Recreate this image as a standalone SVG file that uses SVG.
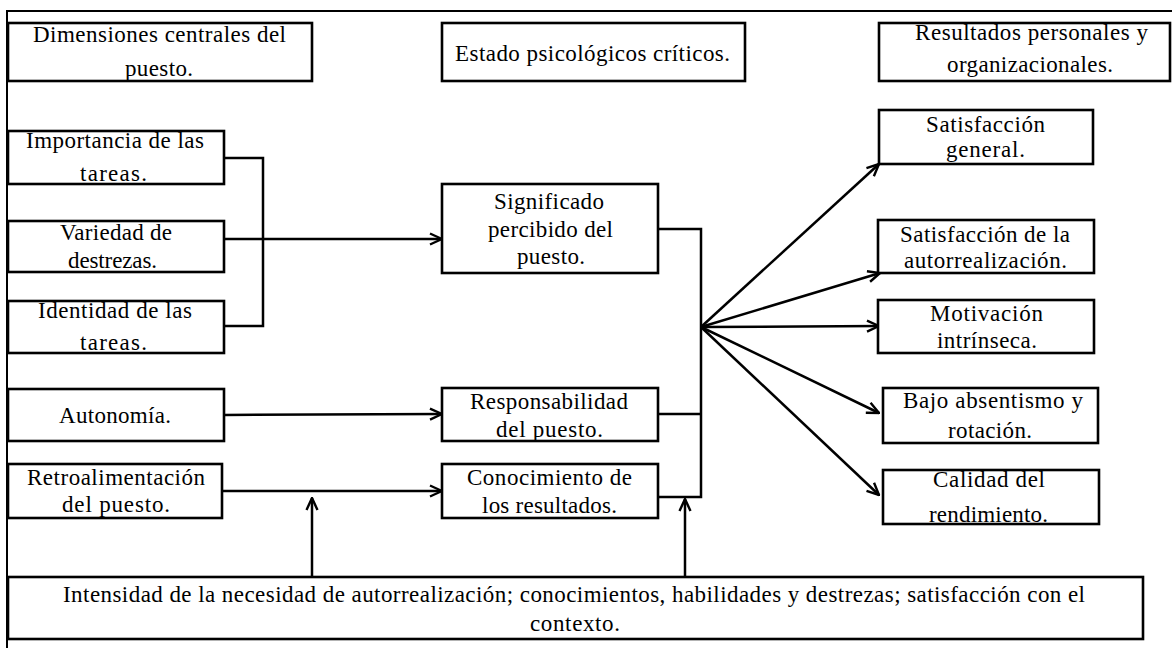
<svg xmlns="http://www.w3.org/2000/svg" width="1172" height="648" viewBox="0 0 1172 648">
  <style>
    .box { fill: #ffffff; stroke: #000000; stroke-width: 2.6; }
    .frame { fill: none; stroke: #000000; stroke-width: 2; }
    .wire { fill: none; stroke: #000000; stroke-width: 2.5; }
    .arrow { fill: none; stroke: #000000; stroke-width: 2.5; marker-end: url(#head); }
    .lbl { font-family: 'Liberation Serif', 'DejaVu Serif', serif; font-size: 23px; fill: #000000; }
  </style>
  <defs>
    <marker id="head" viewBox="0 0 14 14" refX="13" refY="7" markerWidth="14" markerHeight="14" markerUnits="userSpaceOnUse" orient="auto">
      <path d="M1,1.5 L13,7 L1,12.5" fill="none" stroke="#000000" stroke-width="2.4"/>
    </marker>
  </defs>
  <rect width="1172" height="648" fill="#ffffff"/>

  <!-- page frame -->
  <path class="frame" d="M7,648 L7,11 L1172,11"/>

  <!-- connectors -->
  <g id="connectors">
    <path class="wire" d="M224,158 L263,158 L263,326 L224,326"/>
    <path class="arrow" d="M224,239 L442,239"/>
    <path class="arrow" d="M224,415 L442,414"/>
    <path class="arrow" d="M222,491 L442,491"/>
    <path class="arrow" d="M312,577 L312,498"/>
    <path class="arrow" d="M685,577 L685,499"/>
    <path class="wire" d="M658,229 L701,229 L701,497 L658,497"/>
    <path class="wire" d="M658,414 L701,414"/>
    <path class="arrow" d="M701,327 L879,164"/>
    <path class="arrow" d="M701,327 L880,273"/>
    <path class="arrow" d="M701,327 L879,326"/>
    <path class="arrow" d="M701,327 L879,413"/>
    <path class="arrow" d="M701,327 L879,495"/>
  </g>

  <g class="lbl" font-family="'Liberation Serif', 'DejaVu Serif', serif" font-size="23">
    <!-- column headers -->
    <g id="hdr-dimensiones">
      <rect class="box" x="8" y="23" width="304" height="58"/>
      <text x="33" y="42" textLength="253">Dimensiones centrales del</text>
      <text x="125" y="76" textLength="68">puesto.</text>
    </g>
    <g id="hdr-estados">
      <rect class="box" x="442" y="23" width="303" height="58"/>
      <text x="455" y="61" textLength="275">Estado psicológicos críticos.</text>
    </g>
    <g id="hdr-resultados">
      <rect class="box" x="879" y="23" width="291" height="58"/>
      <text x="915" y="40" textLength="233">Resultados personales y</text>
      <text x="947" y="72" textLength="166">organizacionales.</text>
    </g>

    <!-- core job dimensions -->
    <g id="importancia">
      <rect class="box" x="8" y="131" width="216" height="53"/>
      <text x="26" y="148" textLength="178">Importancia de las</text>
      <text x="80" y="181" textLength="67">tareas.</text>
    </g>
    <g id="variedad">
      <rect class="box" x="8" y="221" width="216" height="51"/>
      <text x="60" y="240" textLength="112">Variedad de</text>
      <text x="68" y="268" textLength="89">destrezas.</text>
    </g>
    <g id="identidad">
      <rect class="box" x="8" y="301" width="216" height="52"/>
      <text x="38" y="318" textLength="154">Identidad de las</text>
      <text x="80" y="350" textLength="67">tareas.</text>
    </g>
    <g id="autonomia">
      <rect class="box" x="8" y="389" width="216" height="52"/>
      <text x="59" y="423" textLength="112">Autonomía.</text>
    </g>
    <g id="retroalimentacion">
      <rect class="box" x="8" y="464" width="214" height="54"/>
      <text x="27" y="485" textLength="178">Retroalimentación</text>
      <text x="62" y="512" textLength="108">del puesto.</text>
    </g>

    <!-- critical psychological states -->
    <g id="significado">
      <rect class="box" x="442" y="184" width="216" height="89"/>
      <text x="494" y="209" textLength="110">Significado</text>
      <text x="488" y="237" textLength="125">percibido del</text>
      <text x="517" y="264" textLength="68">puesto.</text>
    </g>
    <g id="responsabilidad">
      <rect class="box" x="442" y="388" width="216" height="53"/>
      <text x="470" y="409" textLength="158">Responsabilidad</text>
      <text x="496" y="437" textLength="107">del puesto.</text>
    </g>
    <g id="conocimiento">
      <rect class="box" x="442" y="464" width="216" height="54"/>
      <text x="467" y="485" textLength="165">Conocimiento de</text>
      <text x="482" y="513" textLength="135">los resultados.</text>
    </g>

    <!-- personal and work outcomes -->
    <g id="satisfaccion-general">
      <rect class="box" x="879" y="110" width="214" height="54"/>
      <text x="926" y="132" textLength="119">Satisfacción</text>
      <text x="946" y="157" textLength="79">general.</text>
    </g>
    <g id="satisfaccion-autorrealizacion">
      <rect class="box" x="878" y="220" width="216" height="53"/>
      <text x="900" y="242" textLength="170">Satisfacción de la</text>
      <text x="904" y="268" textLength="163">autorrealización.</text>
    </g>
    <g id="motivacion">
      <rect class="box" x="878" y="300" width="216" height="53"/>
      <text x="930" y="321" textLength="113">Motivación</text>
      <text x="937" y="348" textLength="100">intrínseca.</text>
    </g>
    <g id="absentismo">
      <rect class="box" x="883" y="388" width="215" height="55"/>
      <text x="903" y="408" textLength="180">Bajo absentismo y</text>
      <text x="948" y="438" textLength="84">rotación.</text>
    </g>
    <g id="calidad">
      <rect class="box" x="883" y="470" width="216" height="54"/>
      <text x="933" y="487" textLength="112">Calidad del</text>
      <text x="929" y="522" textLength="119">rendimiento.</text>
    </g>

    <!-- moderators -->
    <g id="moderadores">
      <rect class="box" x="8" y="577" width="1135" height="62"/>
      <text x="63" y="602" textLength="1022">Intensidad de la necesidad de autorrealización; conocimientos, habilidades y destrezas; satisfacción con el</text>
      <text x="530" y="631" textLength="90">contexto.</text>
    </g>
  </g>
</svg>
